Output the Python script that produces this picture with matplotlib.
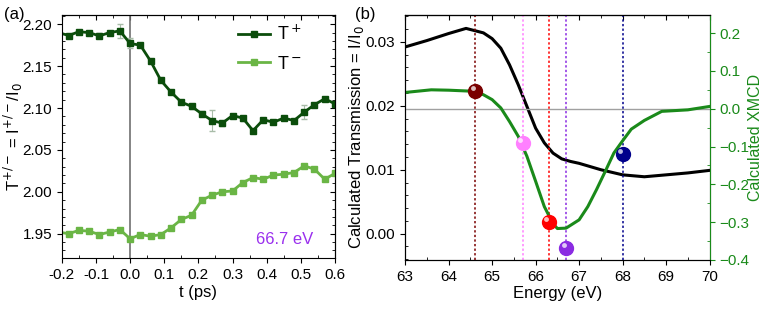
import matplotlib
matplotlib.use("Agg")
import matplotlib.pyplot as plt
from matplotlib.ticker import AutoMinorLocator, MultipleLocator, FormatStrFormatter

plt.rcParams['font.family'] = ['Liberation Sans', 'DejaVu Sans']

# panel (a): time-resolved transmission
t_ps = [-0.21, -0.18, -0.15, -0.12, -0.09, -0.06, -0.03, 0.0, 0.03, 0.06, 0.09, 0.12, 0.15, 0.18,
        0.21, 0.24, 0.27, 0.30, 0.33, 0.36, 0.39, 0.42, 0.45, 0.48, 0.51, 0.54, 0.57, 0.60]
t_plus = [2.190, 2.1865, 2.191, 2.190, 2.186, 2.190, 2.192, 2.177, 2.175, 2.156, 2.133, 2.119, 2.107, 2.102,
          2.093, 2.085, 2.082, 2.091, 2.088, 2.073, 2.086, 2.083, 2.088, 2.085, 2.095, 2.104, 2.111, 2.105]
t_plus_err = [0.001, 0.001, 0.001, 0.001, 0.003, 0.001, 0.008, 0.006, 0.002, 0.001, 0.002, 0.002, 0.001, 0.003,
              0.003, 0.013, 0.003, 0.002, 0.003, 0.002, 0.002, 0.002, 0.002, 0.002, 0.008, 0.002, 0.002, 0.002]
t_minus = [1.952, 1.950, 1.954, 1.953, 1.949, 1.952, 1.955, 1.944, 1.949, 1.947, 1.949, 1.957, 1.967, 1.972,
           1.990, 1.996, 2.000, 2.001, 2.011, 2.017, 2.015, 2.020, 2.021, 2.023, 2.031, 2.027, 2.015, 2.022]

# panel (b): calculated spectra
e_trans = [63.0, 63.5, 64.0, 64.4, 64.8, 65.0, 65.2, 65.4, 65.6, 65.8, 66.0, 66.2, 66.4, 66.6, 66.8,
           67.0, 67.5, 68.0, 68.5, 69.0, 69.5, 70.0]
trans = [0.0292, 0.0302, 0.0313, 0.0321, 0.0314, 0.0305, 0.0290, 0.0264, 0.0233, 0.0199, 0.0165, 0.0142,
         0.0126, 0.0117, 0.0113, 0.0110, 0.0100, 0.0092, 0.0089, 0.0092, 0.0095, 0.0099]
e_xmcd = [63.0, 63.6, 64.0, 64.6, 64.8, 65.0, 65.2, 65.4, 65.6, 65.8, 66.0, 66.2, 66.4, 66.5, 66.7,
          67.0, 67.2, 67.4, 67.6, 67.8, 68.0, 68.2, 68.5, 68.9, 69.5, 70.0]
xmcd = [0.043, 0.050, 0.049, 0.046, 0.037, 0.024, 0.002, -0.034, -0.073, -0.126, -0.192, -0.259, -0.304,
        -0.317, -0.316, -0.294, -0.259, -0.214, -0.166, -0.117, -0.085, -0.054, -0.031, -0.007, -0.003, 0.006]
probe_e = [64.6, 65.7, 66.3, 66.7, 68.0]
probe_xmcd = [0.046, -0.091, -0.301, -0.369, -0.119]
probe_colors = ['#7a0000', '#ff80ff', '#ff0000', '#8a2be2', '#00008b']


def inner_ticks(ax, major, minor, side):
    # mirrored ticks pointing inward, no labels
    if side == 'top':
        sec = ax.secondary_xaxis('top')
        sec.xaxis.set_major_locator(MultipleLocator(major))
        sec.xaxis.set_minor_locator(AutoMinorLocator(minor))
        sec.tick_params(which='both', direction='in', labeltop=False)
    else:
        sec = ax.secondary_yaxis('right')
        sec.yaxis.set_major_locator(MultipleLocator(major))
        sec.yaxis.set_minor_locator(AutoMinorLocator(minor))
        sec.tick_params(which='both', direction='in', labelright=False)
    sec.tick_params(which='major', length=3.5)
    sec.tick_params(which='minor', length=2)


fig = plt.figure(figsize=(7.63, 3.12), dpi=100)
ax1 = fig.add_axes([0.081, 0.173, 0.358, 0.779])
ax2 = fig.add_axes([0.531, 0.167, 0.399, 0.785])
ax3 = ax2.twinx()

dark = '#0b4d0b'
light = '#6ab545'
ax1.axvline(0, color='#707070', lw=1.2)
ax1.errorbar(t_ps, t_plus, yerr=t_plus_err, fmt='none', ecolor='#a8bca8', elinewidth=0.8, capsize=2)
ax1.plot(t_ps, t_plus, '-s', color=dark, lw=2, ms=5, label='T$^+$')
ax1.plot(t_ps, t_minus, '-s', color=light, lw=2, ms=5, label='T$^-$')
ax1.set_xlim(-0.2, 0.6)
ax1.set_ylim(1.921, 2.211)
ax1.xaxis.set_major_locator(MultipleLocator(0.1))
ax1.yaxis.set_major_locator(MultipleLocator(0.05))
ax1.xaxis.set_minor_locator(AutoMinorLocator(2))
ax1.yaxis.set_minor_locator(AutoMinorLocator(5))
ax1.xaxis.set_major_formatter(FormatStrFormatter('%.1f'))
ax1.yaxis.set_major_formatter(FormatStrFormatter('%.2f'))
ax1.tick_params(which='major', direction='out', length=3.5, labelsize=11)
ax1.tick_params(which='minor', direction='in', length=2)
inner_ticks(ax1, 0.1, 2, 'top')
inner_ticks(ax1, 0.05, 5, 'right')
ax1.set_xlabel('t (ps)', fontsize=12, labelpad=2)
ax1.set_ylabel('T$^{+/-}$ = I$^{+/-}$/I$_0$', fontsize=12)
ax1.yaxis.set_label_coords(-0.135, 0.5)
ax1.legend(loc='upper right', frameon=False, fontsize=13, handlelength=1.8, handletextpad=0.4,
           borderpad=0, borderaxespad=0, bbox_to_anchor=(0.88, 0.96), labelspacing=0.65)
ax1.text(0.453, 1.943, '66.7 eV', color='#9a30ee', fontsize=12, ha='center', va='center')
fig.text(0.005, 0.952, '(a)', fontsize=12, va='center')

green = '#1a8a1a'
ax2.plot(e_trans, trans, color='black', lw=2.2)
ax2.set_xlim(63, 70)
ax2.set_ylim(-0.0041, 0.0342)
ax2.xaxis.set_major_locator(MultipleLocator(1))
ax2.xaxis.set_minor_locator(AutoMinorLocator(2))
ax2.yaxis.set_major_locator(MultipleLocator(0.01))
ax2.yaxis.set_minor_locator(AutoMinorLocator(5))
ax2.yaxis.set_major_formatter(FormatStrFormatter('%.2f'))
ax2.tick_params(which='major', direction='out', length=3.5, labelsize=11)
ax2.tick_params(which='minor', direction='in', length=2)
inner_ticks(ax2, 1, 2, 'top')
ax2.set_xlabel('Energy (eV)', fontsize=12, labelpad=2)
ax2.set_ylabel('Calculated Transmission = I/I$_0$', fontsize=12)
ax2.yaxis.set_label_coords(-0.128, 0.5)

ax3.axhline(0, color='#a0a0a0', lw=1)
for e, c in zip(probe_e, probe_colors):
    ax3.axvline(e, color=c, ls=(0, (1.5, 1.5)), lw=1.1)
ax3.plot(e_xmcd, xmcd, color=green, lw=2.2)
for e, v, c in zip(probe_e, probe_xmcd, probe_colors):
    ax3.plot(e, v, 'o', ms=10, color=c, mec=c, zorder=5)
    ax3.plot(e - 0.05, v + 0.008, 'o', ms=3.5, color='white', mec='none', alpha=0.75, zorder=6)
ax3.set_ylim(-0.4, 0.248)
ax3.yaxis.set_major_locator(MultipleLocator(0.1))
ax3.yaxis.set_minor_locator(AutoMinorLocator(2))
ax3.tick_params(which='major', direction='out', length=3.5, colors=green, labelsize=11)
ax3.tick_params(which='minor', direction='in', length=2, colors=green)
ax3.spines['right'].set_color(green)
ax3.set_ylabel('Calculated XMCD', color=green, fontsize=11.5)
ax3.yaxis.set_label_coords(1.126, 0.5)
fig.text(0.465, 0.952, '(b)', fontsize=12, va='center')

fig.savefig('out.png', dpi=100)
